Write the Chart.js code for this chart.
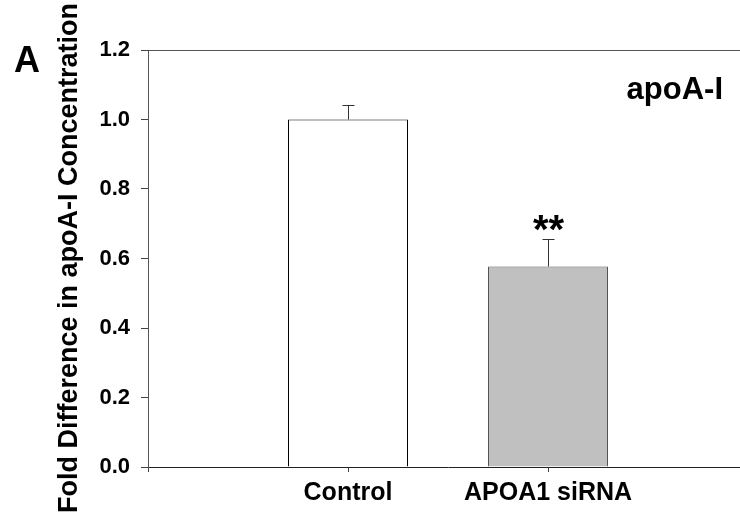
<!DOCTYPE html>
<html>
<head>
<meta charset="utf-8">
<script src="https://cdn.jsdelivr.net/npm/chart.js@4"></script>
<style>
    html, body { margin: 0; padding: 0; overflow: hidden; background: #fff; }
    #wrap { width: 760px; height: 520px; }
</style>
</head>
<body>
<div id="wrap"><canvas id="apoChart" width="760" height="520"></canvas></div>
<script>
const categories = ['Control', 'APOA1 siRNA'];
const foldValues = [1.0, 0.577];
const foldErrors = [0.042, 0.079];
const barColors = ['#ffffff', '#c0c0c0'];
const barBorders = ['#000000', '#555555'];
const stars = ['', '**'];
const yTicks = [0, 0.2, 0.4, 0.6, 0.8, 1.0, 1.2];

const FONT = '"Liberation Sans", Arial, sans-serif';

// empty slots on both sides so the bars sit at positions 1 and 2
const labels = [''].concat(categories, ['']);
const padded = arr => [null].concat(arr, [null]);

const extras = {
    id: 'extras',
    afterDatasetsDraw(chart) {
        const ctx = chart.ctx;
        const x = chart.scales.x;
        const y = chart.scales.y;
        const area = chart.chartArea;
        ctx.save();

        // top frame line
        ctx.strokeStyle = '#555';
        ctx.lineWidth = 1;
        ctx.beginPath();
        ctx.moveTo(area.left, area.top + 0.5);
        ctx.lineTo(area.right, area.top + 0.5);
        ctx.stroke();

        // error bars (upper only) and significance marks
        categories.forEach((c, i) => {
            const cx = Math.round(x.getPixelForValue(i + 1)) + 0.5;
            const top = y.getPixelForValue(foldValues[i]);
            const end = y.getPixelForValue(foldValues[i] + foldErrors[i]);
            ctx.strokeStyle = '#333';
            ctx.beginPath();
            ctx.moveTo(cx, top);
            ctx.lineTo(cx, end);
            ctx.moveTo(cx - 6, Math.round(end) + 0.5);
            ctx.lineTo(cx + 6, Math.round(end) + 0.5);
            ctx.stroke();
            if (stars[i]) {
                ctx.fillStyle = '#000';
                ctx.font = 'bold 40px ' + FONT;
                ctx.textAlign = 'center';
                ctx.textBaseline = 'alphabetic';
                ctx.fillText(stars[i], cx, end + 4);
            }
        });

        ctx.fillStyle = '#000';
        ctx.textBaseline = 'alphabetic';

        // panel letter
        ctx.font = 'bold 36px ' + FONT;
        ctx.textAlign = 'left';
        ctx.fillText('A', 14, 72);

        // inset label
        ctx.font = 'bold 31px ' + FONT;
        ctx.textAlign = 'right';
        ctx.fillText('apoA-I', 723, 99);

        // y axis title
        ctx.translate(70, 258);
        ctx.rotate(-Math.PI / 2);
        ctx.font = 'bold 27px ' + FONT;
        ctx.textAlign = 'center';
        ctx.textBaseline = 'middle';
        ctx.fillText('Fold Difference in apoA-I Concentration', 0, 0);
        ctx.restore();
    }
};

new Chart(document.getElementById('apoChart'), {
    type: 'bar',
    data: {
        labels: labels,
        datasets: [{
            data: padded(foldValues),
            backgroundColor: padded(barColors),
            borderColor: padded(barBorders),
            borderWidth: 1,
            borderSkipped: 'bottom',
            barPercentage: 0.6,
            categoryPercentage: 1
        }]
    },
    options: {
        responsive: false,
        animation: false,
        layout: { padding: { left: 0, top: 50, right: 12, bottom: 0 } },
        plugins: {
            legend: { display: false },
            tooltip: { enabled: false }
        },
        scales: {
            x: {
                offset: false,
                afterFit: s => { s.height = 53; },
                grid: { offset: false, drawOnChartArea: false, drawTicks: true, tickLength: 5, tickColor: '#444' },
                border: { display: true, color: '#222', width: 1 },
                ticks: {
                    color: '#000',
                    padding: 6,
                    maxRotation: 0,
                    autoSkip: false,
                    font: { family: FONT, size: 25, weight: 'bold' }
                }
            },
            y: {
                min: 0,
                max: 1.2,
                afterFit: s => { s.width = 148; },
                afterBuildTicks: s => { s.ticks = yTicks.map(v => ({ value: v })); },
                grid: { drawOnChartArea: false, drawTicks: true, tickLength: 7, tickColor: '#444' },
                border: { display: true, color: '#555', width: 1 },
                ticks: {
                    color: '#000',
                    padding: 11,
                    font: { family: FONT, size: 22, weight: 'bold' },
                    callback: v => v.toFixed(1)
                }
            }
        }
    },
    plugins: [extras]
});
</script>
</body>
</html>
